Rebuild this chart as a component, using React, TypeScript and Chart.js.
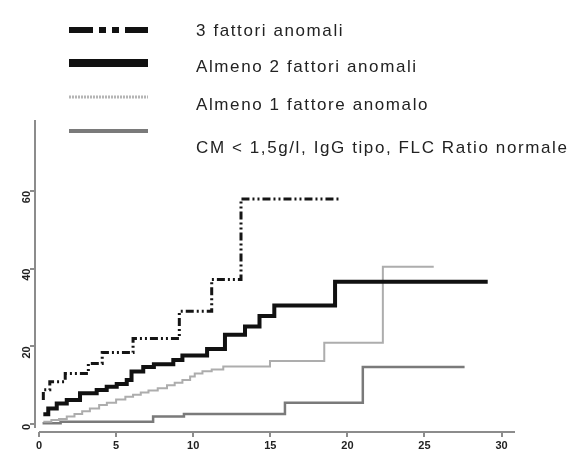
import React, { useEffect, useRef } from 'react';
import { Chart, registerables } from 'chart.js';

Chart.register(...registerables);

// ---- data (months vs cumulative %) ----
const xTickValues = [0, 5, 10, 15, 20, 25, 30];
const yTickValues = [0, 20, 40, 60];

const seriesLabels = [
  '3 fattori anomali',
  'Almeno 2 fattori anomali',
  'Almeno 1 fattore anomalo',
  'CM < 1,5g/l, IgG tipo, FLC Ratio normale',
];

const s1Times = [0.28, 0.28, 0.7, 1.7, 3.2, 4.1, 6.1, 9.1, 11.2, 13.1, 19.6];
const s1Values = [6.2, 8.8, 10.9, 13.0, 15.6, 18.4, 22.0, 29.0, 37.2, 57.9, 57.9];

const s2Times = [0.28, 0.6, 1.15, 1.8, 2.66, 3.74, 4.39, 5.04, 5.69, 6.0, 6.76, 7.45, 8.71, 9.3, 10.9, 12.06, 13.36, 14.3, 15.26, 19.2, 29.1];
const s2Values = [2.5, 4.0, 5.3, 6.2, 7.9, 8.75, 9.6, 10.3, 11.3, 13.5, 14.7, 15.4, 16.5, 17.6, 19.3, 23.0, 25.1, 27.8, 30.5, 36.6, 36.6];

const s3Times = [0.28, 0.8, 1.3, 1.8, 2.3, 2.8, 3.3, 3.9, 4.4, 5.0, 5.6, 6.1, 6.6, 7.1, 7.7, 8.3, 8.8, 9.3, 9.8, 10.1, 10.6, 11.2, 11.95, 14.98, 18.5, 22.3, 25.6];
const s3Values = [0.6, 1.0, 1.3, 1.9, 2.6, 3.3, 4.0, 4.9, 5.5, 6.3, 7.0, 7.5, 8.1, 8.6, 9.2, 10.0, 10.6, 11.3, 12.2, 13.0, 13.6, 14.0, 14.8, 16.2, 20.9, 40.5, 40.5];

const s4Times = [0.23, 1.4, 7.4, 9.4, 15.95, 21.0, 27.6];
const s4Values = [0.2, 0.6, 1.9, 2.6, 5.5, 14.7, 14.7];

const toPoints = (xs: number[], ys: number[]) => xs.map((x, i) => ({ x, y: ys[i] }));

// ---- styles ----
const lineStyles = [
  { color: '#151515', width: 3, dash: [8, 3, 2, 3, 2, 3] },
  { color: '#111111', width: 4, dash: [] as number[] },
  { color: '#adadad', width: 2, dash: [] as number[] },
  { color: '#7a7a7a', width: 2.5, dash: [] as number[] },
];

const legendStyles = [
  { ly: 30, ty: 31, width: 6, color: '#111', dash: [24, 6, 7, 6, 7, 6] },
  { ly: 63, ty: 67, width: 8, color: '#111', dash: [] as number[] },
  { ly: 97, ty: 105, width: 3, color: '#b5b5b5', dash: [2, 1] },
  { ly: 131, ty: 148, width: 4, color: '#7a7a7a', dash: [] as number[] },
];

const axesPlugin = {
  id: 'prismAxes',
  beforeDatasetsDraw(chart: any) {
    const { ctx } = chart;
    const x = chart.scales.x;
    const y = chart.scales.y;
    ctx.save();
    ctx.strokeStyle = '#8c8c8c';
    ctx.lineWidth = 2;
    ctx.beginPath();
    ctx.moveTo(x.left, y.top);
    ctx.lineTo(x.left, y.getPixelForValue(-1));
    ctx.stroke();
    ctx.beginPath();
    ctx.moveTo(x.getPixelForValue(0), y.bottom);
    ctx.lineTo(x.right, y.bottom);
    ctx.stroke();
    ctx.restore();
  },
};

const legendPlugin = {
  id: 'customLegend',
  afterDraw(chart: any) {
    const { ctx } = chart;
    ctx.save();
    chart.data.datasets.forEach((ds: any, i: number) => {
      const st = legendStyles[i];
      ctx.beginPath();
      ctx.strokeStyle = st.color;
      ctx.lineWidth = st.width;
      ctx.lineCap = 'butt';
      ctx.setLineDash(st.dash);
      ctx.moveTo(69, st.ly);
      ctx.lineTo(148, st.ly);
      ctx.stroke();
      ctx.setLineDash([]);
      ctx.fillStyle = '#222';
      ctx.font = '17px "Liberation Sans", Arial, sans-serif';
      (ctx as any).letterSpacing = '1.6px';
      ctx.textBaseline = 'middle';
      ctx.textAlign = 'left';
      ctx.fillText(ds.label, 196, st.ty);
    });
    ctx.restore();
  },
};

export default function App() {
  const canvasRef = useRef<HTMLCanvasElement | null>(null);

  useEffect(() => {
    if (!canvasRef.current) return;
    const allSeries = [
      toPoints(s1Times, s1Values),
      toPoints(s2Times, s2Values),
      toPoints(s3Times, s3Values),
      toPoints(s4Times, s4Values),
    ];
    const datasets = allSeries.map((pts, i) => ({
      label: seriesLabels[i],
      data: pts,
      borderColor: lineStyles[i].color,
      borderWidth: lineStyles[i].width,
      borderDash: lineStyles[i].dash,
      stepped: 'before' as const,
      pointRadius: 0,
      fill: false,
    }));
    const tickFont = { family: '"Liberation Sans", Arial, sans-serif', size: 11, weight: 'bold' as const };
    const chart = new Chart(canvasRef.current, {
      type: 'line',
      data: { datasets },
      options: {
        animation: false,
        responsive: false,
        devicePixelRatio: 1,
        layout: { padding: { top: 120, right: 64, bottom: 0, left: 0 } },
        plugins: { legend: { display: false }, tooltip: { enabled: false } },
        scales: {
          x: {
            type: 'linear',
            min: -0.26,
            max: 30.87,
            afterBuildTicks: (s: any) => { s.ticks = xTickValues.map((v) => ({ value: v })); },
            afterFit: (s: any) => { s.height = 24; },
            border: { display: false },
            grid: { display: true, drawOnChartArea: false, drawTicks: true, tickLength: 5, color: '#8c8c8c', lineWidth: 2 },
            ticks: { font: tickFont, color: '#222', padding: 2, maxRotation: 0, minRotation: 0 },
          },
          y: {
            type: 'linear',
            min: -2.06,
            max: 78.25,
            afterBuildTicks: (s: any) => { s.ticks = yTickValues.map((v) => ({ value: v })); },
            afterFit: (s: any) => { s.width = 35; },
            border: { display: false },
            grid: { display: true, drawOnChartArea: false, drawTicks: true, tickLength: 5, color: '#8c8c8c', lineWidth: 2 },
            ticks: { font: tickFont, color: '#222', padding: 3, minRotation: 90, maxRotation: 90 },
          },
        },
      },
      plugins: [axesPlugin, legendPlugin],
    });
    return () => chart.destroy();
  }, []);

  return (
    <div style={{ position: 'fixed', left: 0, top: 0, width: 579, height: 456, background: '#fff' }}>
      <canvas ref={canvasRef} width={579} height={456} />
    </div>
  );
}
